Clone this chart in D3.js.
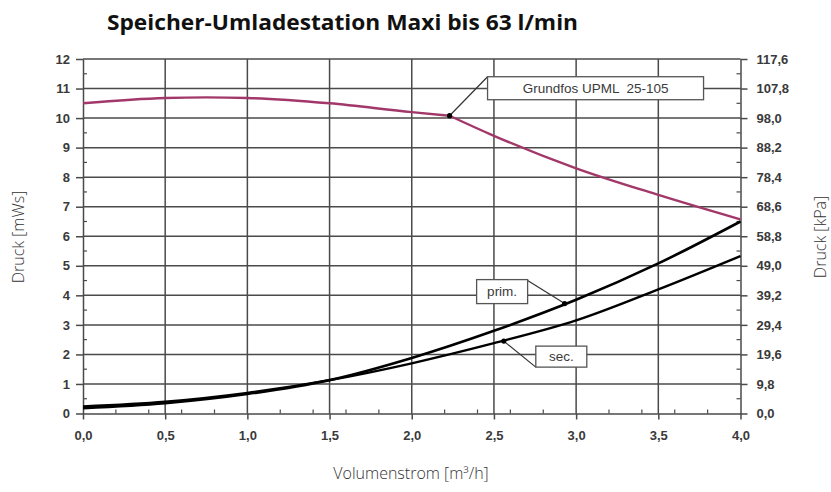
<!DOCTYPE html>
<html>
<head>
<meta charset="utf-8">
<script src="https://cdn.jsdelivr.net/npm/d3@7"></script>
<style>
body{margin:0;background:#fff;}
</style>
</head>
<body>
<div id="chart"></div>
<script>
// data
var flowTicks = [0, 0.5, 1.0, 1.5, 2.0, 2.5, 3.0, 3.5, 4.0];
var mwsTicks = [0, 1, 2, 3, 4, 5, 6, 7, 8, 9, 10, 11, 12];
var kpaTicks = [0, 9.8, 19.6, 29.4, 39.2, 49.0, 58.8, 68.6, 78.4, 88.2, 98.0, 107.8, 117.6];

// pump curve, two parts meeting at the marked point
var pumpFlowA = [0, 0.5, 0.75, 1.0, 1.5, 2.0, 2.23];
var pumpHeadA = [10.5, 10.68, 10.7, 10.68, 10.5, 10.2, 10.08];
var pumpFlowB = [2.23, 2.5, 3.0, 3.5, 4.0];
var pumpHeadB = [10.08, 9.4, 8.3, 7.4, 6.57];

var lossFlow = [0, 0.5, 1.0, 1.5, 2.0, 2.5, 3.0, 3.5, 4.0];
var primLoss = [0.18, 0.35, 0.66, 1.13, 1.88, 2.8, 3.85, 5.08, 6.5];
var secLoss = [0.24, 0.4, 0.7, 1.13, 1.7, 2.38, 3.15, 4.2, 5.33];

var noteText = ["Grundfos UPML  25-105", "prim.", "sec."];
var noteFlow = [2.23, 2.93, 2.56];
var noteValue = [10.08, 3.72, 2.45];

var W = 831, H = 492;
var svg = d3.select("#chart").append("svg").attr("width",W).attr("height",H);

var x = d3.scaleLinear().domain([0,4]).range([83,740.5]);
var y = d3.scaleLinear().domain([0,12]).range([413.5,59]);
var yk = d3.scaleLinear().domain([0,117.6]).range([413.5,59]);

var gridCol = "#4a4a4a";
var tickFont = "'Liberation Sans', Arial, sans-serif";

// grid
svg.append("g").selectAll("line").data(mwsTicks.slice(1)).enter().append("line")
  .attr("x1",x(0)).attr("x2",x(4))
  .attr("y1",d=>y(d)).attr("y2",d=>y(d))
  .attr("stroke",gridCol).attr("stroke-width",1.5);
svg.append("g").selectAll("line").data(flowTicks.slice(1,-1)).enter().append("line")
  .attr("x1",d=>x(d)).attr("x2",d=>x(d))
  .attr("y1",y(0)).attr("y2",y(12))
  .attr("stroke",gridCol).attr("stroke-width",1.5);

// minor ticks
var halfs = d3.range(0.5,12,1);
svg.append("g").selectAll("line").data(halfs).enter().append("line")
  .attr("x1",x(0)).attr("x2",x(0)+4)
  .attr("y1",d=>y(d)).attr("y2",d=>y(d))
  .attr("stroke",gridCol).attr("stroke-width",1.2);
svg.append("g").selectAll("line").data(halfs).enter().append("line")
  .attr("x1",x(4)-4).attr("x2",x(4))
  .attr("y1",d=>y(d)).attr("y2",d=>y(d))
  .attr("stroke",gridCol).attr("stroke-width",1.2);
var minX = d3.range(1,20).map(i=>i*0.2).filter(v=>Math.abs(v*2-Math.round(v*2))>0.01);
svg.append("g").selectAll("line").data(minX).enter().append("line")
  .attr("x1",d=>x(d)).attr("x2",d=>x(d))
  .attr("y1",y(0)).attr("y2",y(0)-4)
  .attr("stroke",gridCol).attr("stroke-width",1.2);

// axes
var fmt1 = v=>d3.format(".1f")(v).replace(".",",");
var styleAxis = function(g){
  g.select(".domain").attr("stroke",gridCol).attr("stroke-width",1.5);
  g.selectAll(".tick line").attr("stroke",gridCol).attr("stroke-width",1.5);
  g.selectAll(".tick text").attr("fill","#3a3a3a")
    .style("font-family",tickFont).style("font-size","13px").style("font-weight","bold");
};
svg.append("g").attr("transform","translate("+x(0)+",0)")
  .call(d3.axisLeft(y).tickValues(mwsTicks).tickSize(7).tickSizeOuter(0).tickPadding(6).tickFormat(d3.format("d")))
  .call(styleAxis);
svg.append("g").attr("transform","translate("+x(4)+",0)")
  .call(d3.axisRight(yk).tickValues(kpaTicks).tickSize(7).tickSizeOuter(0).tickPadding(9).tickFormat(fmt1))
  .call(styleAxis);
svg.append("g").attr("transform","translate(0,"+y(0)+")")
  .call(d3.axisBottom(x).tickValues(flowTicks).tickSize(6).tickSizeOuter(0).tickPadding(11).tickFormat(fmt1))
  .call(styleAxis);

// curves
var line = d3.line().x(d=>x(d[0])).y(d=>y(d[1])).curve(d3.curveMonotoneX);
svg.append("path").datum(d3.zip(lossFlow,secLoss))
  .attr("d",line).attr("fill","none").attr("stroke","#000").attr("stroke-width",2.3);
svg.append("path").datum(d3.zip(lossFlow,primLoss))
  .attr("d",line).attr("fill","none").attr("stroke","#000").attr("stroke-width",2.6);
svg.selectAll(".pump").data([d3.zip(pumpFlowA,pumpHeadA), d3.zip(pumpFlowB,pumpHeadB)]).enter().append("path")
  .attr("class","pump")
  .attr("d",line).attr("fill","none").attr("stroke","#a2386a").attr("stroke-width",2.4)
  .attr("stroke-linejoin","round");

// callouts: box offset from the dot, and which corner the leader goes to
var boxes = [
  {dx:38, dy:-39, w:216, h:23, cx:38, cy:-39},
  {dx:-88, dy:-24, w:51, h:24, cx:-37, cy:-23},
  {dx:32, dy:5, w:51, h:21, cx:32, cy:26}
];
var notes = svg.append("g").selectAll("g").data(noteText).enter().append("g")
  .attr("transform",(d,i)=>"translate("+x(noteFlow[i])+","+y(noteValue[i])+")");
notes.append("line")
  .attr("x1",0).attr("y1",0)
  .attr("x2",(d,i)=>boxes[i].cx).attr("y2",(d,i)=>boxes[i].cy)
  .attr("stroke","#333").attr("stroke-width",1.2);
notes.append("rect")
  .attr("x",(d,i)=>boxes[i].dx).attr("y",(d,i)=>boxes[i].dy)
  .attr("width",(d,i)=>boxes[i].w).attr("height",(d,i)=>boxes[i].h)
  .attr("fill","#fff").attr("stroke","#555").attr("stroke-width",1.3);
notes.append("text")
  .attr("x",(d,i)=>boxes[i].dx+boxes[i].w/2)
  .attr("y",(d,i)=>boxes[i].dy+boxes[i].h/2)
  .attr("dy","0.35em").attr("text-anchor","middle")
  .attr("fill","#3a3a3a")
  .style("white-space","pre")
  .style("font-family",tickFont).style("font-size","13.5px")
  .text(d=>d);
notes.append("circle").attr("r",2.6).attr("fill","#000");

// titles
svg.append("text").attr("x",107).attr("y",30)
  .attr("textLength",471).attr("lengthAdjust","spacingAndGlyphs")
  .style("font-family","'Open Sans','Noto Sans',sans-serif").style("font-weight","bold").style("font-size","21px")
  .attr("fill","#111")
  .text("Speicher-Umladestation Maxi bis 63 l/min");

var labFont = "'Open Sans','Noto Sans',sans-serif";
svg.append("text").attr("x",411).attr("y",479).attr("text-anchor","middle")
  .style("font-family",labFont).style("font-weight","300").style("font-size","16px")
  .attr("fill","#333")
  .text("Volumenstrom [m³/h]");
svg.append("text").attr("transform","translate(24,237) rotate(-90)").attr("text-anchor","middle")
  .style("font-family",labFont).style("font-weight","300").style("font-size","16px")
  .attr("fill","#333")
  .text("Druck [mWs]");
svg.append("text").attr("transform","translate(826,237) rotate(-90)").attr("text-anchor","middle")
  .style("font-family",labFont).style("font-weight","300").style("font-size","16px")
  .attr("fill","#333")
  .text("Druck [kPa]");
</script>
</body>
</html>
